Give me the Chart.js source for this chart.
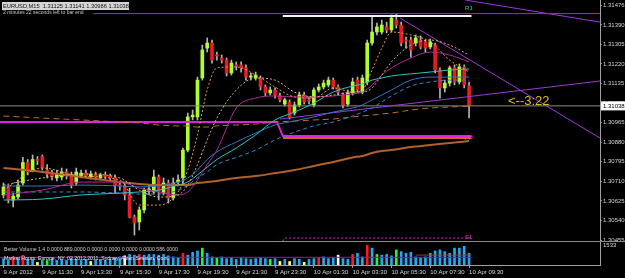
<!DOCTYPE html>
<html>
<head>
<meta charset="utf-8">
<script src="https://cdn.jsdelivr.net/npm/chart.js@4.4.1/dist/chart.umd.min.js"></script>
<style>
html, body { margin: 0; padding: 0; background: #000; }
#wrap { position: relative; width: 625px; height: 278px; background: #000; overflow: hidden; }
#main { position: absolute; left: 0; top: 0; }
#sep { position: absolute; left: 0; top: 241px; width: 625px; height: 1px; background: #8c8c8c; }
#vol { position: absolute; left: 0; top: 242px; }
</style>
</head>
<body>
<div id="wrap">
  <canvas id="main" width="625" height="241"></canvas>
  <div id="sep"></div>
  <canvas id="vol" width="625" height="36"></canvas>
</div>
<script>
// EURUSD M15, 9 Apr 09:30 .. 10 Apr 09:30 (97 bars, index 0..96)
const open = [1.30651,1.30686,1.30629,1.30642,1.30703,1.30792,1.30759,1.30805,1.30818,1.30759,
  1.30746,1.30725,1.30729,1.30751,1.30738,1.30703,1.30733,1.30746,1.30729,1.30742,
  1.30725,1.30738,1.30733,1.30725,1.30694,1.30690,1.30651,1.30555,1.30534,1.30586,
  1.30672,1.30664,1.30729,1.30659,1.30703,1.30638,1.30707,1.30725,1.30846,1.30990,
  1.30990,1.31159,1.31289,1.31311,1.31259,1.31246,1.31237,1.31181,1.31216,1.31216,
  1.31203,1.31163,1.31159,1.31159,1.31120,1.31094,1.31107,1.31081,1.31046,1.31055,
  1.31007,1.31042,1.31085,1.31064,1.31042,1.31107,1.31120,1.31129,1.31150,1.31120,
  1.31085,1.31046,1.31094,1.31150,1.31098,1.31142,1.31311,1.31359,1.31359,1.31381,
  1.31368,1.31411,1.31389,1.31324,1.31324,1.31311,1.31324,1.31316,1.31294,1.31302,
  1.31194,1.31116,1.31137,1.31203,1.31142,1.31207,1.31125];
const high = [1.30703,1.30694,1.30659,1.30716,1.30814,1.30805,1.30825,1.30818,1.30825,1.30783,
  1.30759,1.30759,1.30768,1.30764,1.30751,1.30768,1.30759,1.30759,1.30755,1.30751,
  1.30746,1.30751,1.30742,1.30738,1.30707,1.30703,1.30681,1.30564,1.30599,1.30681,
  1.30694,1.30759,1.30738,1.30725,1.30716,1.30725,1.30738,1.30855,1.31007,1.31020,
  1.31163,1.31302,1.31333,1.31324,1.31272,1.31259,1.31246,1.31237,1.31229,1.31229,
  1.31216,1.31181,1.31185,1.31168,1.31129,1.31120,1.31116,1.31094,1.31072,1.31064,
  1.31055,1.31098,1.31098,1.31077,1.31116,1.31133,1.31150,1.31163,1.31159,1.31129,
  1.31094,1.31107,1.31159,1.31163,1.31172,1.31324,1.31424,1.31398,1.31411,1.31402,
  1.31433,1.31437,1.31402,1.31337,1.31337,1.31346,1.31342,1.31324,1.31329,1.31311,
  1.31203,1.31150,1.31211,1.31216,1.31220,1.31216,1.31141];
const low = [1.30638,1.30616,1.30599,1.30633,1.30694,1.30738,1.30751,1.30783,1.30759,1.30725,
  1.30716,1.30712,1.30716,1.30720,1.30681,1.30694,1.30725,1.30725,1.30720,1.30716,
  1.30716,1.30720,1.30712,1.30659,1.30672,1.30629,1.30551,1.30477,1.30499,1.30573,
  1.30651,1.30655,1.30629,1.30651,1.30616,1.30629,1.30690,1.30694,1.30838,1.30977,
  1.30977,1.31150,1.31272,1.31224,1.31237,1.31224,1.31168,1.31172,1.31194,1.31185,
  1.31150,1.31150,1.31150,1.31107,1.31081,1.31085,1.31072,1.31055,1.31037,1.30981,
  1.30998,1.31033,1.31046,1.31046,1.31033,1.31098,1.31111,1.31120,1.31111,1.31085,
  1.31029,1.31037,1.31085,1.31098,1.31090,1.31129,1.31302,1.31346,1.31350,1.31355,
  1.31359,1.31376,1.31298,1.31289,1.31250,1.31298,1.31285,1.31272,1.31285,1.31181,
  1.31072,1.31098,1.31124,1.31129,1.31133,1.31116,1.30986];
const close = [1.30686,1.30629,1.30646,1.30694,1.30792,1.30751,1.30805,1.30801,1.30768,1.30742,
  1.30729,1.30742,1.30751,1.30733,1.30694,1.30751,1.30746,1.30733,1.30742,1.30729,
  1.30738,1.30729,1.30725,1.30694,1.30690,1.30651,1.30555,1.30529,1.30586,1.30672,
  1.30677,1.30729,1.30664,1.30703,1.30638,1.30703,1.30716,1.30846,1.30990,1.30998,
  1.31150,1.31281,1.31311,1.31237,1.31255,1.31237,1.31181,1.31224,1.31211,1.31203,
  1.31163,1.31168,1.31172,1.31120,1.31094,1.31107,1.31085,1.31064,1.31064,1.30990,
  1.31042,1.31085,1.31055,1.31059,1.31107,1.31120,1.31137,1.31150,1.31120,1.31098,
  1.31042,1.31094,1.31142,1.31107,1.31159,1.31311,1.31359,1.31381,1.31389,1.31368,
  1.31420,1.31389,1.31311,1.31320,1.31281,1.31333,1.31294,1.31289,1.31316,1.31194,
  1.31116,1.31137,1.31203,1.31142,1.31207,1.31129,1.31038];

const volume = [485,350,620,485,750,430,430,200,350,350,430,350,430,350,485,430,350,430,270,350,
  430,350,430,540,620,700,805,750,805,750,805,805,750,805,700,620,540,890,750,970,
  1075,1290,890,620,540,620,485,540,430,540,485,430,485,540,485,430,485,270,430,270,
  485,430,200,430,485,540,620,485,540,750,485,430,805,890,620,1510,1290,805,750,805,
  700,1155,1025,890,970,620,540,620,890,1075,1155,1025,890,1290,1290,1430,890];
// b = blue, r = red, g = green, y = yellow, w = white
const volKind = 'bbrbrbbybgbbbbbbbbybbbbbbwbbrbbbbbbbbrbbbgbbgbbbbbbbbbbgbybybbybbrbbbwbbrbbrbgbbbgbbbbbbbbbbbbbbb';

const tickBars = [0, 8, 16, 24, 32, 40, 48, 56, 64, 72, 80, 88, 96];
const tickLabels = ['9 Apr 2012', '9 Apr 11:30', '9 Apr 13:30', '9 Apr 15:30', '9 Apr 17:30', '9 Apr 19:30',
  '9 Apr 21:30', '9 Apr 23:30', '10 Apr 01:30', '10 Apr 03:30', '10 Apr 05:30', '10 Apr 07:30', '10 Apr 09:30'];
const priceTicks = [1.31476, 1.31390, 1.31305, 1.31220, 1.31135, 1.31050, 1.30965,
  1.30880, 1.30795, 1.30710, 1.30625, 1.30540, 1.30455];

// moving averages, read at these bars
const maBars = [0, 8, 16, 24, 28, 32, 36, 38, 40, 42, 44, 48, 52, 56, 60, 64, 68, 72, 74, 76, 78, 80, 84, 88, 92, 96];
const maFast = [1.30672,1.30768,1.30733,1.30716,1.30607,1.30607,1.30664,1.30759,1.30912,1.31107,1.31203,1.31207,1.31172,
  1.31120,1.31077,1.31072,1.31116,1.31098,1.31107,1.31194,1.31289,1.31359,1.31346,1.31316,1.31237,1.31185];
const maMid = [1.30694,1.30725,1.30742,1.30725,1.30672,1.30642,1.30651,1.30694,1.30783,1.30890,1.30985,1.31107,1.31159,
  1.31150,1.31098,1.31077,1.31085,1.31098,1.31098,1.31116,1.31172,1.31229,1.31302,1.31324,1.31302,1.31259];
const maMagenta = [1.30651,1.30672,1.30707,1.30707,1.30681,1.30664,1.30651,1.30664,1.30716,1.30783,1.30846,1.31029,1.31072,
  1.31081,1.31077,1.31077,1.31081,1.31090,1.31098,1.31129,1.31172,1.31203,1.31246,1.31272,1.31259,1.31229];
const maCyan = [1.30629,1.30633,1.30651,1.30659,1.30664,1.30672,1.30694,1.30707,1.30738,1.30772,1.30805,1.30855,1.30912,
  1.30977,1.31011,1.31050,1.31098,1.31124,1.31133,1.31150,1.31159,1.31168,1.31177,1.31185,1.31194,1.31198];
const maBlue = [1.30690,1.30690,1.30694,1.30690,1.30686,1.30690,1.30707,1.30725,1.30759,1.30805,1.30838,1.30881,1.30920,
  1.30955,1.30972,1.30990,1.31011,1.31029,1.31042,1.31064,1.31085,1.31107,1.31150,1.31163,1.31163,1.31163];
const maBlueDash = [1.30664,1.30664,1.30664,1.30659,1.30655,1.30655,1.30672,1.30694,1.30725,1.30751,1.30783,1.30814,1.30846,
  1.30890,1.30924,1.30951,1.30968,1.30994,1.31011,1.31029,1.31055,1.31081,1.31124,1.31142,1.31150,1.31150];
const maSlow = [1.30768,1.30751,1.30729,1.30707,1.30699,1.30694,1.30694,1.30694,1.30703,1.30707,1.30712,1.30725,1.30733,
  1.30746,1.30759,1.30777,1.30794,1.30814,1.30820,1.30833,1.30842,1.30846,1.30859,1.30868,1.30877,1.30885];
const maSlowDash = [1.30994,1.30985,1.30977,1.30968,1.30964,1.30955,1.30951,1.30951,1.30946,1.30946,1.30951,1.30955,1.30959,
  1.30968,1.30972,1.30977,1.30981,1.30990,1.30994,1.30998,1.31003,1.31007,1.31020,1.31029,1.31033,1.31037];

// levels and trend lines: [bars], [prices]
const pivotBars = [-0.72, 56.4, 57.6, 96.5];
const pivotVals = [1.30968, 1.30968, 1.30907, 1.30907];
const orangeBars = [57.6, 96.5], orangeVals = [1.30898, 1.30898];
const s1Bars = [57.6, 58.0, 96.5], s1Vals = [1.30451, 1.30464, 1.30464];
const r1Bars = [57.6, 96.5], r1Vals = [1.31429, 1.31429];
const topBars = [18.5, 123], topVals = [1.31439, 1.31439];
const trendA = [[95.2, 1.31498], [123, 1.31402]];
const trendB = [[81.75, 1.31420], [123, 1.30898]];
const trendC = [[57, 1.30981], [123, 1.31146]];
const bid = 1.31038;
const volAvg = 586, volAvgBars = [-0.72, 96.5];
const volLevel = 760, volLevelBars = [85, 96.5];

const xMin = -0.72, xMax = 123;
const FONT = '"Liberation Sans", Arial, sans-serif';

function pts(xs, ys) { return xs.map((v, i) => ({ x: v, y: ys[i] })); }
function line(data, color, width, dash, tension) {
  return { type: 'line', data: data, borderColor: color, borderWidth: width, borderDash: dash || [],
    pointRadius: 0, tension: tension || 0, cubicInterpolationMode: tension ? 'monotone' : 'default',
    clip: 0, order: 0 };
}

const up = close.map((c, i) => c >= open[i]);

const overlay = {
  id: 'overlay',
  afterDraw(chart) {
    const { ctx, scales: { x, y } } = chart;
    ctx.save();
    // title
    ctx.fillStyle = '#d4d4d4';
    ctx.fillRect(2, 2, 127, 8);
    ctx.fillStyle = '#101010';
    ctx.font = '5.7px ' + FONT;
    ctx.textBaseline = 'middle';
    ctx.fillText('EURUSD,M15  1.31125 1.31141 1.30986 1.31038', 3, 6.5);
    ctx.fillStyle = '#c8c8c8';
    ctx.font = '5px ' + FONT;
    ctx.fillText('2 minutes 22 seconds left to bar end', 3, 13);
    // level labels
    ctx.font = '6px ' + FONT;
    ctx.fillStyle = '#40c8c8';
    ctx.fillText('R1', x.getPixelForValue(96) - 4, y.getPixelForValue(r1Vals[0]) - 8);
    ctx.fillStyle = '#e040c0';
    ctx.fillText('PP', x.getPixelForValue(96) - 4, y.getPixelForValue(orangeVals[0]));
    ctx.fillText('S1', x.getPixelForValue(96) - 4, y.getPixelForValue(s1Vals[2]) - 1);
    // countdown
    ctx.fillStyle = '#dcbc1c';
    ctx.font = '13px ' + FONT;
    ctx.textBaseline = 'alphabetic';
    ctx.fillText('<--3:22', 508, y.getPixelForValue(bid) - 0.5);
    // current price box
    const py = y.getPixelForValue(bid);
    ctx.fillStyle = '#ffffff';
    ctx.fillRect(601, py - 4.5, 24, 9);
    ctx.fillStyle = '#000000';
    ctx.font = '6px ' + FONT;
    ctx.textBaseline = 'middle';
    ctx.fillText(bid.toFixed(5), 603, py);
    ctx.restore();
  }
};

new Chart(document.getElementById('main'), {
  type: 'bar',
  data: {
    datasets: [
      line(pts(maBars, maFast), '#e89a3c', 1, [2, 2], 0.4),
      line(pts(maBars, maMid), '#d6b27a', 1, [2, 2], 0.4),
      line(pts(maBars, maMagenta), '#b0289a', 1, [], 0.4),
      line(pts(maBars, maCyan), '#2cc4c4', 1, [], 0.4),
      line(pts(maBars, maBlue), '#3a72c8', 1, [], 0.4),
      line(pts(maBars, maBlueDash), '#2a8ad0', 1, [4, 3], 0.4),
      line(pts(maBars, maSlow), '#b0622a', 2, [], 0.4),
      line(pts(maBars, maSlowDash), '#c06a28', 1, [6, 4], 0.4),
      line(pts(pivotBars, pivotVals), '#e020e0', 2),
      line(pts(orangeBars, orangeVals), '#c8661c', 2),
      line(pts(s1Bars, s1Vals), '#e020e0', 1, [2, 2]),
      line(pts(topBars, topVals), '#8a34c8', 1),
      line(pts(r1Bars, r1Vals), '#f4f4f4', 2),
      line(trendA.map(p => ({ x: p[0], y: p[1] })), '#9a3ad8', 1),
      line(trendB.map(p => ({ x: p[0], y: p[1] })), '#9a3ad8', 1),
      line(trendC.map(p => ({ x: p[0], y: p[1] })), '#9a3ad8', 1),
      line([{ x: xMin, y: bid }, { x: xMax, y: bid }], '#8c8c7c', 1),
      {
        data: open.map((o, i) => ({ x: i, y: [o, close[i]] })),
        backgroundColor: up.map(u => u ? '#adff2f' : '#e81c24'),
        barThickness: 3, minBarLength: 1, grouped: false, order: 1
      },
      {
        data: low.map((l, i) => ({ x: i, y: [l, high[i]] })),
        backgroundColor: '#b4b4b4',
        barThickness: 1, grouped: false, order: 2
      }
    ]
  },
  options: {
    responsive: false,
    animation: false,
    layout: { padding: 0 },
    plugins: { legend: { display: false }, tooltip: { enabled: false } },
    scales: {
      x: { type: 'linear', min: xMin, max: xMax, offset: false, bounds: 'data', display: false },
      y: {
        position: 'right', min: 1.30451, max: 1.31498,
        afterBuildTicks: s => { s.ticks = priceTicks.map(v => ({ value: v })); },
        afterFit: s => { s.width = 25; s.paddingTop = 0; s.paddingBottom = 0; },
        ticks: { callback: v => v.toFixed(5), font: { family: FONT, size: 6 }, color: '#d0d0d0', padding: 1, autoSkip: false },
        grid: { drawOnChartArea: false, tickLength: 2, color: '#909090' },
        border: { color: '#a0a0a0' }
      }
    }
  },
  plugins: [overlay]
});

const volText = {
  id: 'volText',
  afterDraw(chart) {
    const { ctx } = chart;
    ctx.save();
    ctx.font = '5.2px ' + FONT;
    ctx.textBaseline = 'middle';
    ctx.fillStyle = '#c8c8c8';
    ctx.fillText('Better Volume 1.4 0.0000 889.0000 0.0000 0.0000 0.0000 0.0000 586.0000', 4, 7.5);
    ctx.fillStyle = '#e8e8e8';
    ctx.fillText('Market Hours: Europe, NY, 02.2012 2011, Sydney, Asian Session, Cont.', 4, 17);
    ctx.restore();
  }
};

const volColors = { b: '#22aaee', r: '#ff1c1c', g: '#1cff1c', y: '#ffff90', w: '#ffffff' };

new Chart(document.getElementById('vol'), {
  type: 'bar',
  data: {
    datasets: [
      line(pts(volAvgBars, [volAvg, volAvg]), '#b000b0', 1),
      line(pts(volLevelBars, [volLevel, volLevel]), '#8a4a1c', 1),
      {
        data: volume.map((v, i) => ({ x: i, y: v })),
        backgroundColor: volume.map((v, i) => volColors[volKind[i]]),
        barThickness: 2, grouped: false, order: 1
      }
    ]
  },
  options: {
    responsive: false,
    animation: false,
    layout: { padding: 0 },
    plugins: { legend: { display: false }, tooltip: { enabled: false } },
    scales: {
      x: {
        type: 'linear', min: xMin, max: xMax, offset: false, bounds: 'data',
        afterBuildTicks: s => { s.ticks = tickBars.map(v => ({ value: v })); },
        afterFit: s => { s.height = 13; s.paddingLeft = 0; s.paddingRight = 0; },
        ticks: { callback: v => tickLabels[tickBars.indexOf(v)], align: 'start', maxRotation: 0, autoSkip: false,
          font: { family: FONT, size: 6 }, color: '#d8d8d8', padding: 1 },
        grid: { drawOnChartArea: false, tickLength: 3, color: '#909090', offset: false },
        border: { color: '#a0a0a0' }
      },
      y: {
        position: 'right', min: 0, max: 1760,
        afterBuildTicks: s => { s.ticks = [{ value: 1533 }]; },
        afterFit: s => { s.width = 25; s.paddingTop = 0; s.paddingBottom = 0; },
        ticks: { callback: v => String(v), font: { family: FONT, size: 6 }, color: '#d8d8d8', padding: 3 },
        grid: { drawOnChartArea: false, tickLength: 0 },
        border: { color: '#a0a0a0' }
      }
    }
  },
  plugins: [volText]
});
</script>
</body>
</html>
